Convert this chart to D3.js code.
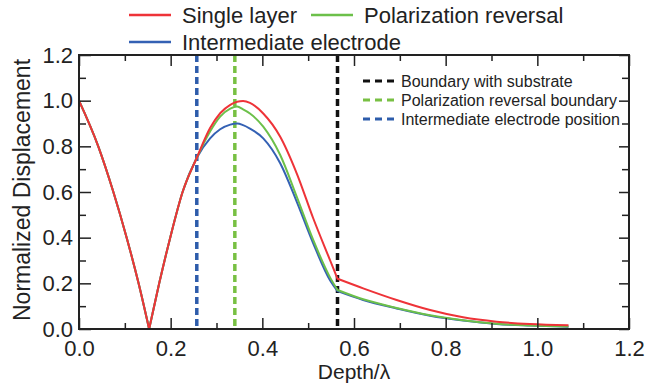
<!DOCTYPE html>
<html>
<head>
<meta charset="utf-8">
<script src="https://cdn.jsdelivr.net/npm/d3@7"></script>
<style>
  body { margin: 0; background: #fff; }
  text { font-family: "Liberation Sans", Arial, sans-serif; fill: #222; }
</style>
</head>
<body>
<script>
let depth = [0, 0.042, 0.075, 0.104, 0.13, 0.153, 0.175, 0.199, 0.226, 0.257, 0.286, 0.308, 0.33, 0.345, 0.358, 0.373, 0.402, 0.439, 0.475, 0.511, 0.548, 0.564, 0.62, 0.693, 0.766, 0.838, 0.911, 0.984, 1.068];
let singleLayer = [1.0, 0.8, 0.6, 0.4, 0.2, 0, 0.2, 0.4, 0.6, 0.75, 0.88, 0.945, 0.982, 0.995, 0.998, 0.99, 0.944, 0.842, 0.682, 0.485, 0.3, 0.22, 0.178, 0.127, 0.083, 0.051, 0.032, 0.022, 0.016];
let polReversal = [1.0, 0.8, 0.6, 0.4, 0.2, 0, 0.2, 0.4, 0.6, 0.75, 0.865, 0.93, 0.965, 0.974, 0.962, 0.944, 0.886, 0.762, 0.58, 0.39, 0.225, 0.171, 0.13, 0.092, 0.06, 0.038, 0.023, 0.015, 0.011];
let interElectrode = [1.0, 0.8, 0.6, 0.4, 0.2, 0, 0.2, 0.4, 0.6, 0.75, 0.835, 0.875, 0.895, 0.9, 0.893, 0.878, 0.835, 0.726, 0.558, 0.375, 0.212, 0.166, 0.127, 0.09, 0.058, 0.037, 0.022, 0.015, 0.01];
// indexes where the curves have a corner (zero and substrate boundary)
let kinks = [5, 21];

let seriesNames = ["Single layer", "Polarization reversal", "Intermediate electrode"];
let seriesColors = ["#ee3338", "#6cc04a", "#3461b4"];

let markerNames = ["Boundary with substrate", "Polarization reversal boundary", "Intermediate electrode position"];
let markerDepth = [0.564, 0.34, 0.257];
let markerColors = ["#111", "#78c043", "#2d5cab"];

let xTicks = [0, 0.2, 0.4, 0.6, 0.8, 1.0, 1.2];
let yTicks = [0, 0.2, 0.4, 0.6, 0.8, 1.0, 1.2];
let minorTicks = [0.1, 0.3, 0.5, 0.7, 0.9, 1.1];

let width = 662, height = 390;
let margin = { left: 79, top: 55, right: 33, bottom: 61 };
let w = width - margin.left - margin.right,
    h = height - margin.top - margin.bottom;

let svg = d3.select("body").append("svg")
    .attr("width", width).attr("height", height);
let g = svg.append("g")
    .attr("transform", "translate(" + margin.left + "," + margin.top + ")");

let xScale = d3.scaleLinear().domain([0, 1.2]).range([0, w]);
let yScale = d3.scaleLinear().domain([0, 1.2]).range([h, 0]);

// vertical dashed markers
g.selectAll(".marker").data(markerDepth).enter().append("line")
    .attr("x1", (d) => xScale(d)).attr("x2", (d) => xScale(d))
    .attr("y1", 0).attr("y2", h)
    .attr("stroke", (d, i) => markerColors[i])
    .attr("stroke-width", 3.5)
    .attr("stroke-dasharray", "7,4");

// curves, smoothed piecewise between the corners
let series = [singleLayer, polReversal, interElectrode];
let line = d3.line()
    .x((d) => xScale(d[0]))
    .y((d) => yScale(d[1]))
    .curve(d3.curveMonotoneX);
function piecewise(vals) {
  let pts = vals.map((v, i) => [depth[i], v]);
  let cuts = [0].concat(kinks, [pts.length - 1]);
  let d = "";
  for (let k = 0; k < cuts.length - 1; k++) {
    let seg = line(pts.slice(cuts[k], cuts[k + 1] + 1));
    d += k == 0 ? seg : "L" + seg.slice(1);
  }
  return d;
}
// blue first, red on top
[2, 1, 0].forEach((k) => {
  g.append("path")
    .attr("fill", "none")
    .attr("stroke", seriesColors[k])
    .attr("stroke-width", 2)
    .attr("stroke-linejoin", "round")
    .attr("d", piecewise(series[k]));
});

// axes: ticks point inward on all four sides
function styleAxis(sel) {
  sel.selectAll("path").remove();
  sel.selectAll("line").attr("stroke", "#222").attr("stroke-width", 1.5);
}
let fmt = d3.format(".1f");
g.append("g").attr("transform", "translate(0," + h + ")")
    .call(d3.axisBottom(xScale).tickValues(xTicks).tickFormat(fmt).tickSizeInner(-11).tickSizeOuter(0).tickPadding(11))
    .call(styleAxis)
    .selectAll("text").style("font-size", "22px");
g.append("g").attr("transform", "translate(0," + h + ")")
    .call(d3.axisBottom(xScale).tickValues(minorTicks).tickFormat("").tickSizeInner(-6).tickSizeOuter(0))
    .call(styleAxis);
g.append("g")
    .call(d3.axisTop(xScale).tickValues(xTicks).tickFormat("").tickSizeInner(-11).tickSizeOuter(0))
    .call(styleAxis);
g.append("g")
    .call(d3.axisTop(xScale).tickValues(minorTicks).tickFormat("").tickSizeInner(-6).tickSizeOuter(0))
    .call(styleAxis);
g.append("g")
    .call(d3.axisLeft(yScale).tickValues(yTicks).tickFormat(fmt).tickSizeInner(-12).tickSizeOuter(0).tickPadding(6))
    .call(styleAxis)
    .selectAll("text").style("font-size", "22px");
g.append("g")
    .call(d3.axisLeft(yScale).tickValues(minorTicks).tickFormat("").tickSizeInner(-7).tickSizeOuter(0))
    .call(styleAxis);
g.append("g").attr("transform", "translate(" + w + ",0)")
    .call(d3.axisRight(yScale).tickValues(yTicks).tickFormat("").tickSizeInner(-10).tickSizeOuter(0))
    .call(styleAxis);
g.append("g").attr("transform", "translate(" + w + ",0)")
    .call(d3.axisRight(yScale).tickValues(minorTicks).tickFormat("").tickSizeInner(-7).tickSizeOuter(0))
    .call(styleAxis);

g.append("rect")
    .attr("width", w).attr("height", h)
    .attr("fill", "none").attr("stroke", "#222").attr("stroke-width", 2);

// axis titles
svg.append("text")
    .attr("x", margin.left + w / 2).attr("y", 379)
    .attr("text-anchor", "middle").style("font-size", "21px")
    .text("Depth/λ");
svg.append("text")
    .attr("transform", "translate(30," + (margin.top + h / 2 - 2) + ") rotate(-90)")
    .attr("text-anchor", "middle").style("font-size", "23px")
    .text("Normalized Displacement");

// top legend
let legendPos = [[129, 15], [311, 15], [129, 42]];
seriesNames.forEach((name, i) => {
  let lg = svg.append("g").attr("transform", "translate(" + legendPos[i][0] + "," + legendPos[i][1] + ")");
  lg.append("line").attr("x1", 0).attr("x2", 42)
    .attr("stroke", seriesColors[i]).attr("stroke-width", 2.5);
  lg.append("text").attr("x", 53).attr("y", 8)
    .style("font-size", "22px").text(name);
});

// inner legend for dashed markers
markerNames.forEach((name, i) => {
  let lg = svg.append("g").attr("transform", "translate(363," + (81 + i * 19) + ")");
  lg.append("line").attr("x1", 0).attr("x2", 32)
    .attr("stroke", markerColors[i]).attr("stroke-width", 3)
    .attr("stroke-dasharray", "7,5");
  lg.append("text").attr("x", 38).attr("y", 5.5)
    .style("font-size", "16px").text(name);
});
</script>
</body>
</html>
